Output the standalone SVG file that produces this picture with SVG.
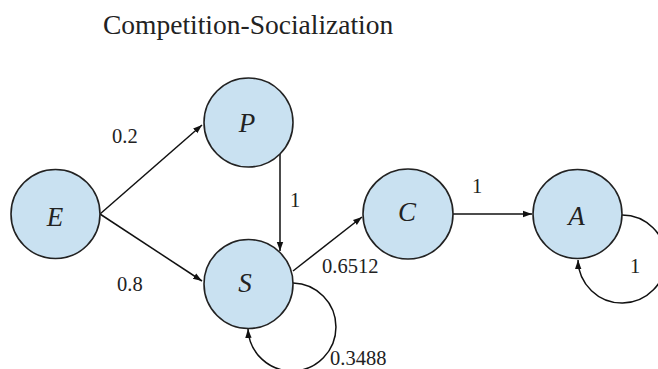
<svg xmlns="http://www.w3.org/2000/svg" width="658" height="369" viewBox="0 0 658 369">
<defs>
<marker id="arr" markerWidth="10" markerHeight="8" refX="9" refY="4" orient="auto" markerUnits="userSpaceOnUse">
<path d="M0,0.8 L9,4 L0,7.2 Z" fill="#111"/>
</marker>
<style>
text{font-family:'Liberation Serif','Times New Roman',Times,'DejaVu Serif',serif;fill:#222}
.node circle{fill:#c9e1f1;stroke:#222;stroke-width:1.6}
.node text{font-style:italic;font-size:27px;text-anchor:middle}
.edge{fill:none;stroke:#111;stroke-width:1.5;marker-end:url(#arr)}
.lbl{font-size:20.5px}
.title{font-size:27.5px}
</style>
</defs>
<rect width="658" height="369" fill="#fff"/>
<text class="title" x="103" y="34">Competition-Socialization</text>
<g id="connectors">
<line class="edge" x1="100" y1="214" x2="202" y2="125"/>
<line class="edge" x1="100" y1="214" x2="202" y2="281"/>
<line class="edge" x1="280" y1="154" x2="280" y2="251"/>
<line class="edge" x1="293" y1="271" x2="362" y2="217"/>
<line class="edge" x1="453" y1="214" x2="532" y2="214"/>
<path class="edge" d="M293,283 A44,44 0 1 1 248,329"/>
<path class="edge" d="M622,215 A44,44 0 1 1 578,260"/>
<text class="lbl" x="112" y="143">0.2</text>
<text class="lbl" x="117" y="291">0.8</text>
<text class="lbl" x="290" y="207">1</text>
<text class="lbl" x="322" y="273">0.6512</text>
<text class="lbl" x="472" y="193">1</text>
<text class="lbl" x="630" y="273">1</text>
<text class="lbl" x="330" y="365">0.3488</text>
</g>
<g id="node-E" class="node"><circle cx="55.5" cy="214" r="44.5"/><text x="55" y="226">E</text></g>
<g id="node-P" class="node"><circle cx="248.5" cy="122.5" r="44.5"/><text x="247" y="132">P</text></g>
<g id="node-S" class="node"><circle cx="248.5" cy="284" r="44.5"/><text x="245" y="292">S</text></g>
<g id="node-C" class="node"><circle cx="408" cy="214" r="45"/><text x="407" y="221">C</text></g>
<g id="node-A" class="node"><circle cx="577.5" cy="214" r="44.5"/><text x="576.5" y="225">A</text></g>
</svg>
